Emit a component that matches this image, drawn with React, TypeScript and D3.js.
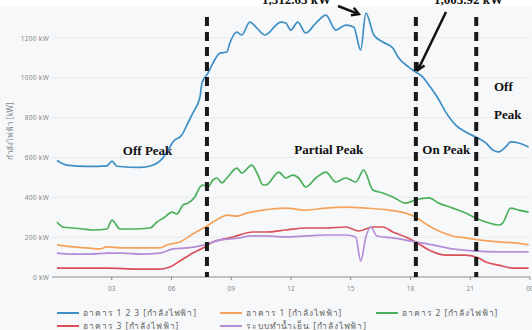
import React from "react";
import * as d3 from "d3";

type Pt = [number, number];

const total: Pt[] = [
  [0.25, 585], [0.75, 562], [1.76, 555], [2.76, 558], [3.01, 582], [3.26, 556], [4.42, 550],
  [5.02, 560], [5.57, 598], [5.92, 653], [6.07, 678], [6.52, 713], [6.82, 773], [7.07, 823],
  [7.43, 904], [7.53, 974], [7.83, 1024], [8.08, 1074], [8.43, 1124], [8.78, 1130], [8.93, 1175],
  [9.28, 1230], [9.53, 1215], [9.93, 1280], [10.29, 1250], [10.69, 1215], [11.49, 1280],
  [11.74, 1275], [11.99, 1240], [12.34, 1280], [12.74, 1225], [13.25, 1275], [13.75, 1315],
  [14.25, 1240], [14.75, 1265], [15.15, 1255], [15.5, 1140], [15.76, 1325], [16.16, 1215],
  [16.61, 1180], [17.11, 1150], [17.41, 1099], [17.91, 1054], [18.26, 1029], [18.62, 1004],
  [18.92, 964], [19.37, 899], [19.77, 828], [20.27, 763], [20.77, 728], [21.27, 703],
  [21.78, 673], [22.13, 638], [22.43, 628], [22.78, 653], [23.03, 678], [23.43, 673], [23.93, 653],
];

const building1: Pt[] = [
  [0.25, 161], [1.05, 151], [1.76, 146], [2.4, 141], [2.76, 151], [3.56, 146], [4.42, 146],
  [5.42, 146], [5.77, 161], [6.42, 176], [7.07, 216], [7.78, 256], [8.43, 296], [8.78, 311],
  [9.28, 306], [9.78, 321], [10.59, 336], [11.74, 346], [12.74, 336], [13.75, 346], [14.75, 351],
  [15.76, 346], [16.91, 336], [17.76, 321], [18.26, 301], [18.77, 266], [19.42, 231],
  [20.12, 206], [20.77, 196], [21.42, 186], [22.43, 176], [23.23, 171], [23.93, 161],
];

const building2: Pt[] = [
  [0.25, 276], [0.55, 251], [1.05, 246], [1.56, 241], [2.06, 236], [2.76, 241], [3.01, 286],
  [3.41, 241], [4.06, 241], [4.92, 246], [5.27, 276], [5.67, 301], [6.02, 326], [6.27, 316],
  [6.57, 361], [6.82, 371], [7.17, 402], [7.43, 452], [7.58, 462], [7.83, 452], [8.08, 487],
  [8.28, 497], [8.53, 472], [8.78, 497], [9.28, 547], [9.53, 522], [10.03, 562], [10.34, 512],
  [10.59, 462], [10.74, 462], [11.39, 527], [11.74, 497], [12.09, 512], [12.39, 497],
  [12.74, 452], [13.25, 497], [13.75, 527], [14.25, 477], [14.75, 497], [15.25, 477],
  [15.65, 537], [16.11, 437], [16.61, 422], [17.11, 402], [17.76, 371], [18.26, 387],
  [18.92, 397], [19.42, 371], [20.12, 346], [20.77, 321], [21.27, 296], [21.78, 276],
  [22.43, 261], [22.63, 271], [23.03, 346], [23.43, 336], [23.93, 326],
];

const building3: Pt[] = [
  [0.25, 45], [1.05, 45], [2.76, 45], [4.42, 40], [5.42, 40], [5.92, 50], [6.42, 80],
  [7.07, 120], [7.58, 146], [8.08, 176], [8.43, 186], [9.08, 201], [10.09, 226], [10.74, 226],
  [11.74, 236], [12.74, 246], [13.75, 246], [14.75, 251], [15.4, 231], [16.11, 251],
  [16.61, 251], [17.11, 226], [17.76, 201], [18.26, 176], [18.92, 136], [19.77, 110],
  [20.77, 110], [21.42, 95], [21.78, 75], [22.43, 60], [23.13, 45], [23.93, 45],
];

const chiller: Pt[] = [
  [0.25, 120], [1.05, 115], [1.91, 115], [2.76, 120], [3.56, 120], [4.42, 115], [5.42, 120],
  [6.07, 141], [6.77, 146], [7.43, 156], [7.93, 171], [8.43, 186], [9.43, 196], [9.93, 206],
  [10.59, 206], [11.74, 201], [12.74, 206], [13.75, 211], [14.75, 211], [15.25, 201],
  [15.5, 80], [15.76, 201], [16.01, 251], [16.31, 206], [17.11, 196], [18.26, 176],
  [19.12, 161], [20.12, 141], [21.12, 131], [22.43, 126], [23.93, 126],
];

const seriesNames = [
  "อาคาร 1 2 3 [กำลังไฟฟ้า]",
  "อาคาร 1 [กำลังไฟฟ้า]",
  "อาคาร 2 [กำลังไฟฟ้า]",
  "อาคาร 3 [กำลังไฟฟ้า]",
  "ระบบทำน้ำเย็น [กำลังไฟฟ้า]",
];
const seriesColors = ["#3f8fc5", "#f5a35c", "#4caf5a", "#d9505a", "#b48cd8"];
const seriesData = [total, building1, building2, building3, chiller];

const xTicks = [3, 6, 9, 12, 15, 18, 21, 24];
const xTickLabels = ["03", "06", "09", "12", "15", "18", "21", "00"];
const yTicks = [0, 200, 400, 600, 800, 1000, 1200];

const periodBounds = [7.78, 18.27, 21.3];
const periodLabels = [
  { text: "Off Peak", hour: 4.8, kw: 612 },
  { text: "Partial Peak", hour: 13.9, kw: 617 },
  { text: "On Peak", hour: 19.8, kw: 617 },
];
const annotations = [
  { text: "1,312.63 kW", hour: 15.76, kw: 1325 },
  { text: "1,003.92 kW", hour: 18.27, kw: 1029 },
];

export default function App() {
  const W = 532, H = 330;
  const x = d3.scaleLinear().domain([0, 24]).range([52, 530]);
  const y = d3.scaleLinear().domain([0, 1200]).range([277, 38]);
  const line = d3
    .line<Pt>()
    .x((d) => x(d[0]))
    .y((d) => y(d[1]))
    .curve(d3.curveMonotoneX);

  const serif = "'Liberation Serif', 'Times New Roman', serif";
  const sans = "'Noto Sans', 'DejaVu Sans', sans-serif";

  const legendPos = [
    { lx: 57, ly: 313 },
    { lx: 220, ly: 313 },
    { lx: 376, ly: 313 },
    { lx: 57, ly: 326 },
    { lx: 220, ly: 326 },
  ];

  const a1 = annotations[0];
  const a2 = annotations[1];
  const p1 = [x(a1.hour) - 7, y(a1.kw) + 1];
  const p2 = [x(a2.hour) + 2, y(a2.kw) - 2];

  return (
    <svg width={W} height={H} style={{ position: "absolute", left: 0, top: 0 }}>
      <defs>
        <marker id="arr" viewBox="0 0 10 10" refX="8" refY="5" markerWidth="4" markerHeight="4" orient="auto">
          <path d="M1,1 L8,5 L1,9" fill="none" stroke="#111" strokeWidth="2.4" />
        </marker>
      </defs>
      <rect x={0} y={0} width={W} height={H} fill="#ffffff" />
      <rect x={0} y={6} width={W} height={H - 6} fill="#f6f8f9" />
      {yTicks.map((t) => (
        <g key={t}>
          <line x1={52} x2={530} y1={y(t)} y2={y(t)} stroke={t === 0 ? "#8a8a8a" : "#e9ecee"} strokeWidth={1} />
          <text x={49} y={y(t) + 2.5} textAnchor="end" fontFamily={sans} fontSize={6.5} fill="#888" letterSpacing={0.3}>
            {`${t} kW`}
          </text>
        </g>
      ))}
      {xTicks.map((t, i) => (
        <g key={t}>
          <line x1={x(t)} x2={x(t)} y1={277} y2={280} stroke="#8a8a8a" strokeWidth={1} />
          <text x={x(t)} y={291} textAnchor="middle" fontFamily={sans} fontSize={6.5} fill="#888">
            {xTickLabels[i]}
          </text>
        </g>
      ))}
      <text
        transform={`translate(13,131) rotate(-90)`}
        textAnchor="middle"
        fontFamily={sans}
        fontSize={8}
        fill="#888"
      >
        กำลังไฟฟ้า [kW]
      </text>
      {seriesData.map((s, i) => (
        <path key={i} d={line(s) as string} fill="none" stroke={seriesColors[i]} strokeWidth={1.7} strokeLinejoin="round" />
      ))}
      {periodBounds.map((h, i) => (
        <line key={i} x1={x(h)} x2={x(h)} y1={17} y2={277} stroke="#1a1a1a" strokeWidth={4} strokeDasharray="9,6" />
      ))}
      {periodLabels.map((p, i) => (
        <text key={i} x={x(p.hour)} y={y(p.kw)} textAnchor="middle" fontFamily={serif} fontWeight="bold" fontSize={13} fill="#111">
          {p.text}
        </text>
      ))}
      <text x={494} y={91} fontFamily={serif} fontWeight="bold" fontSize={13} fill="#111">Off</text>
      <text x={494} y={119} fontFamily={serif} fontWeight="bold" fontSize={13} fill="#111">Peak</text>
      <text x={262} y={4} fontFamily={serif} fontWeight="bold" fontSize={13} fill="#111">{a1.text}</text>
      <text x={434} y={4} fontFamily={serif} fontWeight="bold" fontSize={13} fill="#111">{a2.text}</text>
      <line x1={338} y1={6} x2={p1[0]} y2={p1[1]} stroke="#111" strokeWidth={2.5} markerEnd="url(#arr)" />
      <line x1={446} y1={12} x2={p2[0]} y2={p2[1]} stroke="#111" strokeWidth={2.5} markerEnd="url(#arr)" />
      {seriesNames.map((n, i) => (
        <g key={i}>
          <line x1={legendPos[i].lx} x2={legendPos[i].lx + 22} y1={legendPos[i].ly} y2={legendPos[i].ly} stroke={seriesColors[i]} strokeWidth={2} />
          <text x={legendPos[i].lx + 26} y={legendPos[i].ly + 3} fontFamily={sans} fontSize={8.5} fill="#666" letterSpacing={0.9}>
            {n}
          </text>
        </g>
      ))}
    </svg>
  );
}
